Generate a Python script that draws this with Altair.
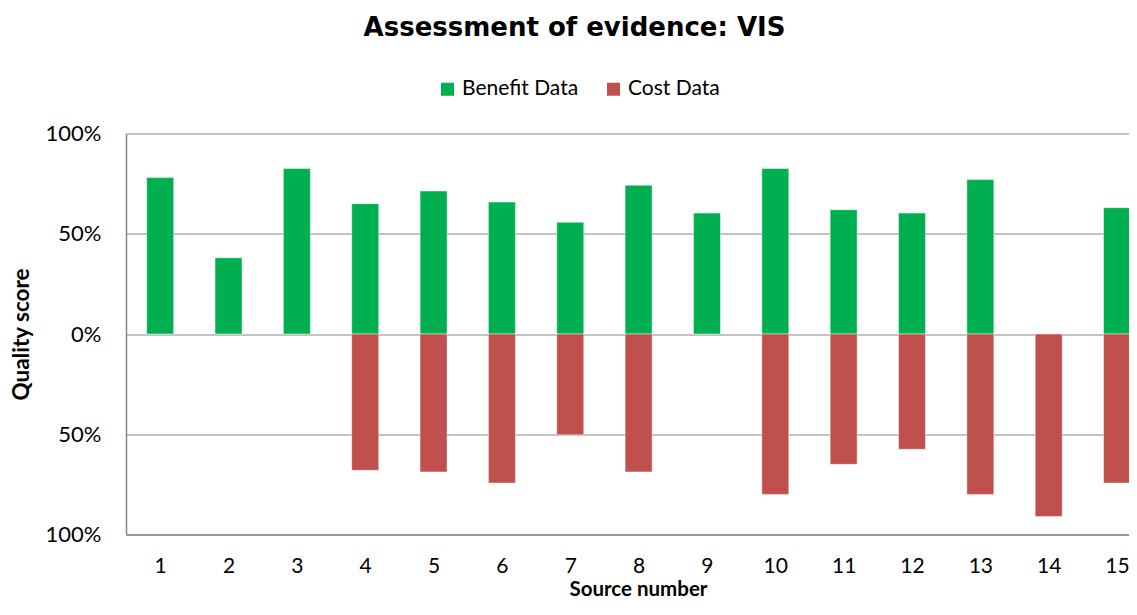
import altair as alt
import pandas as pd

# ---- data ----
sources = list(range(1, 16))
benefit = [0.78, 0.38, 0.825, 0.65, 0.713, 0.658, 0.557, 0.742, 0.603, 0.825,
           0.62, 0.603, 0.77, None, 0.63]
cost = [None, None, None, 0.68, 0.688, 0.743, 0.503, 0.688, None, 0.80,
        0.65, 0.575, 0.80, 0.91, 0.743]
series_names = ["Benefit Data", "Cost Data"]
series_colors = ["#00B050", "#C0504D"]
y_ticks = [-1, -0.5, 0, 0.5, 1]

rows = []
for s, b, c in zip(sources, benefit, cost):
    if b is not None:
        rows.append({"source": s, "series": "Benefit Data", "value": b})
    if c is not None:
        rows.append({"source": s, "series": "Cost Data", "value": -c})
df = pd.DataFrame(rows)

FONT = "Lato"

chart = alt.Chart(df).mark_bar(
    size=27, stroke="white", strokeWidth=1, strokeOpacity=0.45
).encode(
    x=alt.X(
        "source:Q",
        scale=alt.Scale(domain=[0.5, 15.175], nice=False, zero=False, padding=0),
        axis=alt.Axis(
            values=sources, format="d", title="Source number",
            ticks=False, grid=False, domainColor="#878787", domainWidth=1.5,
            labelFontSize=21, labelPadding=21, labelColor="#000",
            labelFont=FONT, titleFont=FONT,
            titleFontSize=20.5, titleFontWeight="bold", titleColor="#000",
            titleX=512, titleY=61, titleBaseline="alphabetic", titleAlign="center",
        ),
    ),
    y=alt.Y(
        "value:Q",
        stack=None,
        scale=alt.Scale(domain=[-1, 1], nice=False),
        axis=alt.Axis(
            values=y_ticks,
            labelExpr="format(abs(datum.value), '.0%')",
            title="Quality score",
            ticks=False, grid=True, gridColor="#878787", gridWidth=1.2,
            domainColor="#878787", domainWidth=1.5,
            labelFontSize=22, labelPadding=25, labelColor="#000",
            labelFont=FONT, titleFont=FONT,
            titleFontSize=22.5, titleFontWeight="bold", titleColor="#000",
            titleAngle=270, titleX=-105, titleY=200.5,
            titleAlign="center", titleBaseline="middle",
        ),
    ),
    color=alt.Color(
        "series:N",
        scale=alt.Scale(domain=series_names, range=series_colors),
        legend=alt.Legend(
            orient="none", legendX=311, legendY=-55, direction="horizontal",
            title=None, symbolType="square", symbolSize=169,
            symbolStrokeWidth=0, labelFontSize=21, labelFont=FONT,
            labelColor="#000", labelOffset=4, columnPadding=24, padding=0,
        ),
    ),
).properties(
    width=1003,
    height=401,
    autosize=alt.AutoSizeParams(type="none"),
    padding={"left": 118, "top": 125.5, "right": 0, "bottom": 66},
    title=alt.TitleParams(
        "Assessment of evidence: VIS",
        font="DejaVu Sans", fontSize=26, fontWeight="bold", color="#000",
        anchor="middle", dx=-53, offset=38,
    ),
).configure_view(stroke=None)

chart.save("out.html", embed_options={"renderer": "svg", "actions": False})
